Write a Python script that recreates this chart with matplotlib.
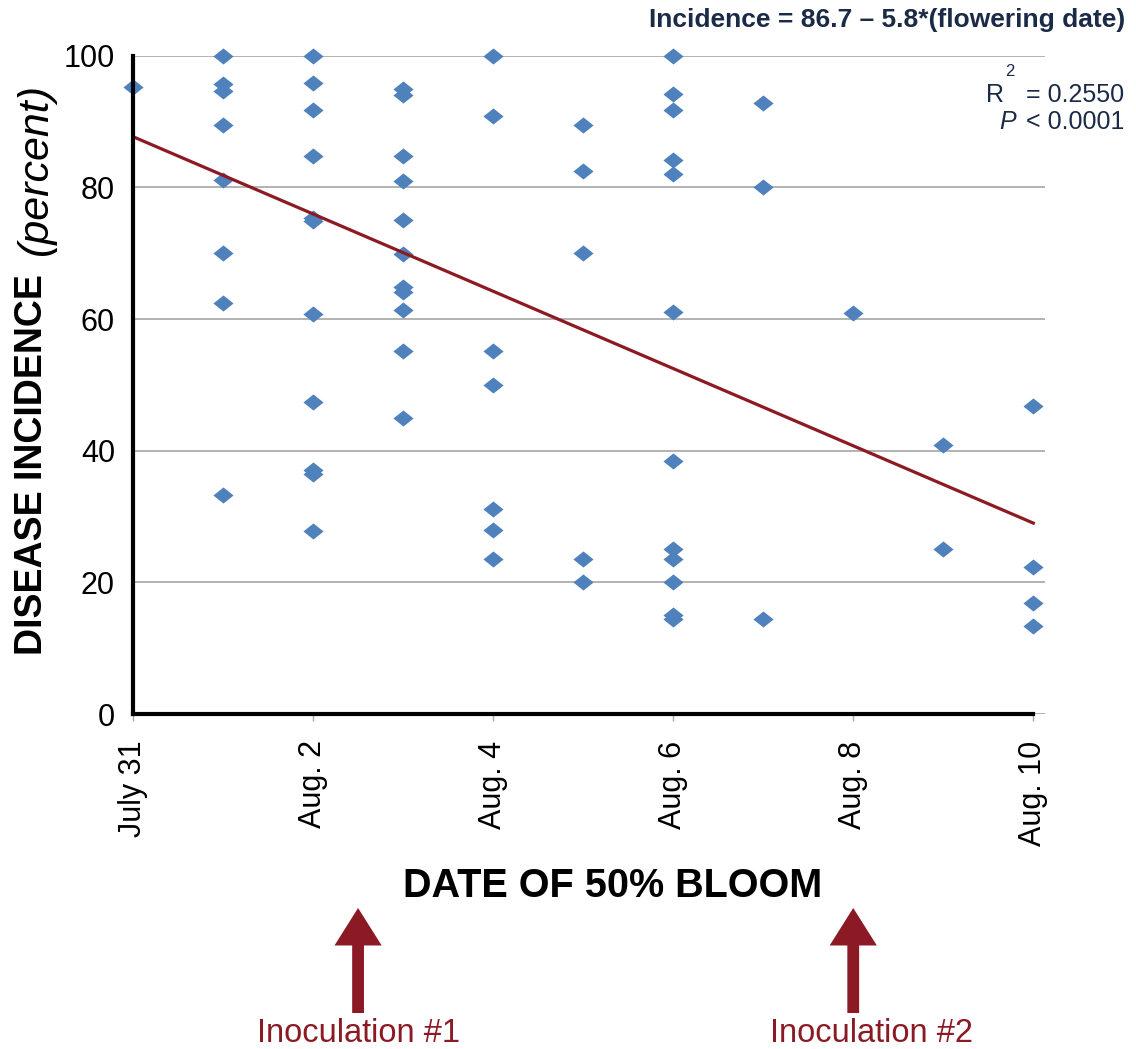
# Disease incidence vs date of 50% bloom, with linear trend
import matplotlib
matplotlib.use('Agg')
import matplotlib.pyplot as plt
import matplotlib.transforms as mtransforms
from matplotlib.path import Path
import numpy as np

# days after July 31, one list of incidence values per day
days = [0, 1, 2, 3, 4, 5, 6, 7, 8, 9, 10]
incidence = [
    [95.2],
    [100, 95.7, 94.7, 89.4, 81.1, 70.1, 62.4, 33.3],
    [100, 95.8, 91.8, 84.8, 75.4, 74.9, 60.7, 47.4, 37.0, 36.5, 27.8],
    [94.9, 94.1, 84.8, 80.9, 75.0, 69.9, 64.9, 64.1, 61.4, 55.1, 44.9],
    [100, 90.8, 55.1, 50.0, 31.1, 27.9, 23.5],
    [89.4, 82.5, 70.0, 23.5, 20.0],
    [100, 94.2, 91.7, 84.2, 82.1, 61.0, 38.5, 25.1, 23.5, 20.0, 15.0, 14.4],
    [92.8, 80.0, 14.4],
    [60.9],
    [40.9, 25.0],
    [46.8, 22.3, 16.8, 13.4],
]

tick_days = [0, 2, 4, 6, 8, 10]
tick_labels = ['July 31', 'Aug. 2', 'Aug. 4', 'Aug. 6', 'Aug. 8', 'Aug. 10']
y_ticks = [0, 20, 40, 60, 80, 100]

trend_intercept = 87.7
trend_slope = -5.87

inoculation_days = [2.5, 8]
inoculation_labels = ['Inoculation #1', 'Inoculation #2']
inoculation_label_x = [2.5, 8.2]

plt.rcParams['font.family'] = ['Liberation Sans', 'DejaVu Sans']

W, H = 1136, 1049
fig = plt.figure(figsize=(W / 100, H / 100), dpi=100)
ax = fig.add_axes([133 / W, 1 - 714 / H, 912 / W, (714 - 55.7) / H])

# flat diamond marker
diamond = Path([(-1, 0), (0, 0.8), (1, 0), (0, -0.8), (-1, 0)],
               [Path.MOVETO, Path.LINETO, Path.LINETO, Path.LINETO, Path.CLOSEPOLY])

xs = []
ys = []
for d, vals in zip(days, incidence):
    xs += [d] * len(vals)
    ys += vals

ax.plot(xs, ys, linestyle='none', marker=diamond, markersize=14.5,
        color='#4F81BD', markeredgewidth=0, clip_on=False, zorder=3)

tx = np.array([0, 10])
ax.plot(tx, trend_intercept + trend_slope * tx, color='#8C1A22', lw=2.3, zorder=4)

ax.set_xlim(0, 10.13)
ax.set_ylim(0, 100)

for yv in y_ticks:
    ax.axhline(yv, color='#A6A6A6', lw=1.2, zorder=1)

for s in ['top', 'right']:
    ax.spines[s].set_visible(False)
for s in ['left', 'bottom']:
    ax.spines[s].set_linewidth(3)
    ax.spines[s].set_color('black')
    ax.spines[s].set_zorder(5)
ax.spines['bottom'].set_bounds(0, 10)

ax.set_yticks(y_ticks)
ax.set_yticklabels([str(v) for v in y_ticks], fontsize=22)
ax.tick_params(axis='y', length=0, pad=13)

ax.set_xticks(tick_days)
ax.set_xticklabels(tick_labels, rotation=90, fontsize=22)
ax.tick_params(axis='x', length=5, width=1, color='#A6A6A6', pad=14)

# axis titles
fig.text(32 / W, 1 - 655 / H, 'DISEASE INCIDENCE', rotation=90, ha='center', va='bottom',
         fontsize=27, fontweight='bold')
fig.text(36 / W, 1 - 83 / H, '(percent)', rotation=90, ha='center', va='top',
         fontsize=31, fontstyle='italic')
fig.text(613 / W, 1 - 886 / H, 'DATE OF 50% BLOOM', ha='center', va='center',
         fontsize=28.5, fontweight='bold')

# regression text
navy = '#1B2A47'
fig.text(1125 / W, 1 - 20 / H, 'Incidence = 86.7 \u2013 5.8*(flowering date)', ha='right',
         va='center', fontsize=19, fontweight='bold', color=navy)
fig.text(1004 / W, 1 - 95 / H, 'R', ha='right', va='center', fontsize=18, color=navy)
fig.text(1010 / W, 1 - 72 / H, '2', ha='center', va='center', fontsize=12, color=navy)
fig.text(1124 / W, 1 - 95 / H, '= 0.2550', ha='right', va='center', fontsize=18, color=navy)
fig.text(1016 / W, 1 - 122 / H, 'P', ha='right', va='center', fontsize=18,
         fontstyle='italic', color=navy)
fig.text(1124 / W, 1 - 122 / H, '< 0.0001', ha='right', va='center', fontsize=18, color=navy)

# inoculation arrows below the axis
red = '#8C1A24'
blend = mtransforms.blended_transform_factory(ax.transData, fig.transFigure)
for d, lab, lx in zip(inoculation_days, inoculation_labels, inoculation_label_x):
    ax.annotate('', xy=(d, 1 - 908 / H), xytext=(d, 1 - 1013 / H),
                xycoords=blend, textcoords=blend, annotation_clip=False,
                arrowprops=dict(width=8.5, headwidth=34, headlength=27, shrink=0,
                                color=red, lw=0))
    ax.text(lx, 1 - 1033 / H, lab, transform=blend, ha='center', va='center',
            fontsize=23.5, color=red)

fig.savefig('out.png', dpi=100)
